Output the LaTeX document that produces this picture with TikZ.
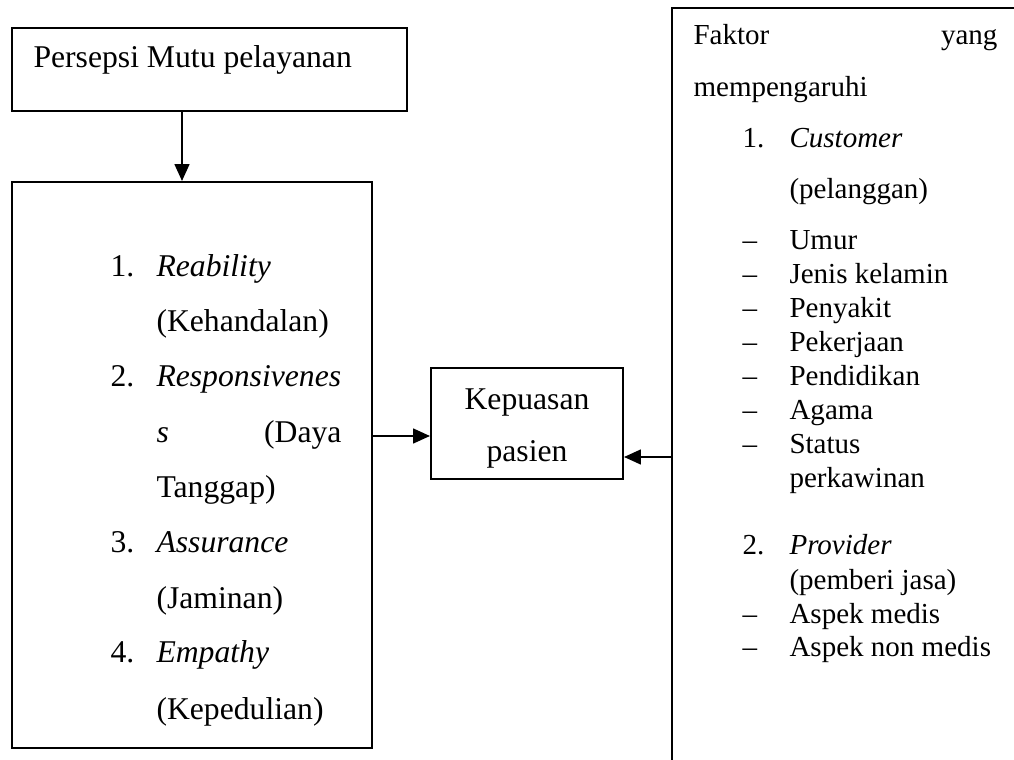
\documentclass[tikz,border=0pt]{standalone}
\usepackage{fontspec}
\setmainfont{Liberation Serif}
\usetikzlibrary{arrows.meta,fit}
\begin{document}
\begin{tikzpicture}[x=0.379pt,y=-0.379pt,
  boxn/.style={draw,line width=0.75pt,inner sep=0pt},
  arr/.style={line width=0.75pt,-{Triangle[length=6.4pt,width=5.6pt]}},
  tl/.style={anchor=base west,inner sep=0pt,font=\fontsize{12}{14}\selectfont},
  tr/.style={anchor=base east,inner sep=0pt,font=\fontsize{12}{14}\selectfont},
  tc/.style={anchor=base,inner sep=0pt,font=\fontsize{12}{14}\selectfont},
  sl/.style={anchor=base west,inner sep=0pt,font=\fontsize{11}{13}\selectfont},
  sr/.style={anchor=base east,inner sep=0pt,font=\fontsize{11}{13}\selectfont}]
\useasboundingbox[fill=white] (0,0) rectangle (1014,760);
\begin{scope}
\clip (0,0) rectangle (1014,760);
% box corners
\coordinate (b1a) at (12,28);   \coordinate (b1b) at (407,111);
\coordinate (b2a) at (12,182);  \coordinate (b2b) at (372,748);
\coordinate (b3a) at (431,368); \coordinate (b3b) at (623,479);
\coordinate (b4a) at (672,8);   \coordinate (b4b) at (1040,790);
% boxes
\node[boxn,fit=(b1a)(b1b)] (box1) {};
\node[boxn,fit=(b2a)(b2b)] (box2) {};
\node[boxn,fit=(b3a)(b3b)] (box3) {};
\node[boxn,fit=(b4a)(b4b)] (box4) {};
% connector guides
\coordinate (ax) at (182,0);
\coordinate (ay1) at (0,436);
\coordinate (ay2) at (0,457);
\draw[arr] (box1.south -| ax) -- (box2.north -| ax);
\draw[arr] (box2.east |- ay1) -- (box3.west |- ay1);
\draw[arr] (box4.west |- ay2) -- (box3.east |- ay2);
% box 1 text
\node[tl] (t1) at (33,68) {Persepsi Mutu pelayanan};
% box 2 text
\node[tl] (n1) at (110,277) {1.};
\node[tl] (i1) at (156,277) {\itshape Reability};
\node[tl] (i1b) at (156,332) {(Kehandalan)};
\node[tl] (n2) at (110,387) {2.};
\node[tl] (i2) at (156,387) {\itshape Responsivenes};
\node[tl] (i2b) at (156,443) {\itshape s};
\node[tr] (i2c) at (342,443) {(Daya};
\node[tl] (i2d) at (156,498) {Tanggap)};
\node[tl] (n3) at (110,553) {3.};
\node[tl] (i3) at (156,553) {\itshape Assurance};
\node[tl] (i3b) at (156,608) {(Jaminan)};
\node[tl] (n4) at (110,663) {4.};
\node[tl] (i4) at (156,663) {\itshape Empathy};
\node[tl] (i4b) at (156,719) {(Kepedulian)};
% box 3 text
\node[tc] (k1) at (527,410) {Kepuasan};
\node[tc] (k2) at (527,462) {pasien};
% box 4 text
\node[sl] (f1) at (693,45) {Faktor};
\node[sr] (f2) at (998,45) {yang};
\node[sl] (f3) at (693,97) {mempengaruhi};
\node[sl] (c1) at (742,148) {1.};
\node[sl] (c2) at (789,148) {\itshape Customer};
\node[sl] (c3) at (789,199) {(pelanggan)};
\node[sl] (d1) at (742,250) {–};
\node[sl] (e1) at (789,250) {Umur};
\node[sl] (d2) at (742,284) {–};
\node[sl] (e2) at (789,284) {Jenis kelamin};
\node[sl] (d3) at (742,318) {–};
\node[sl] (e3) at (789,318) {Penyakit};
\node[sl] (d4) at (742,352) {–};
\node[sl] (e4) at (789,352) {Pekerjaan};
\node[sl] (d5) at (742,386) {–};
\node[sl] (e5) at (789,386) {Pendidikan};
\node[sl] (d6) at (742,420) {–};
\node[sl] (e6) at (789,420) {Agama};
\node[sl] (d7) at (742,454) {–};
\node[sl] (e7) at (789,454) {Status};
\node[sl] (e7b) at (789,488) {perkawinan};
\node[sl] (p1) at (742,555) {2.};
\node[sl] (p2) at (789,555) {\itshape Provider};
\node[sl] (p3) at (789,589) {(pemberi jasa)};
\node[sl] (d8) at (742,623) {–};
\node[sl] (e8) at (789,623) {Aspek medis};
\node[sl] (d9) at (742,657) {–};
\node[sl] (e9) at (789,657) {Aspek non medis};
\end{scope}
\end{tikzpicture}
\end{document}
